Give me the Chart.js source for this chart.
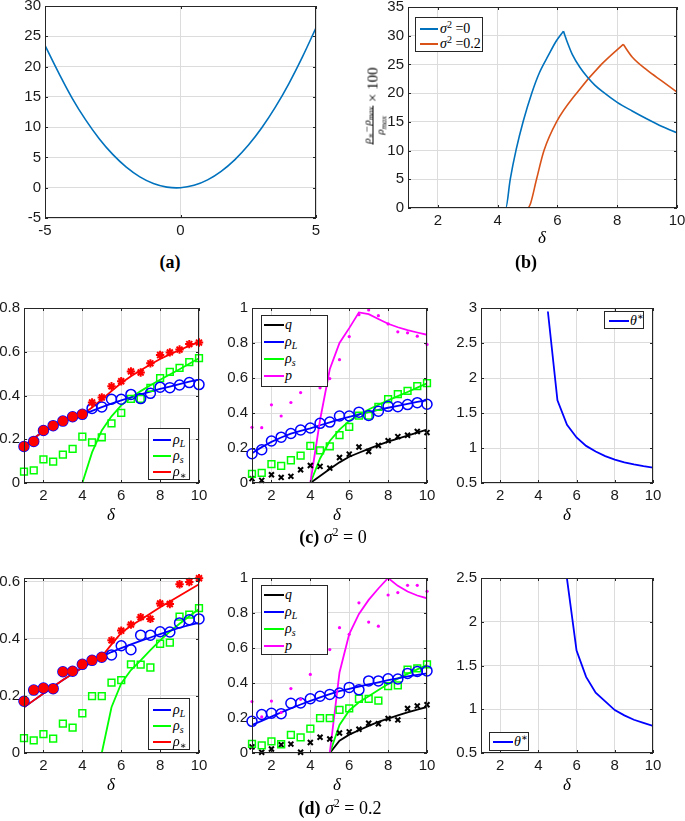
<!DOCTYPE html>
<html>
<head>
<meta charset="utf-8">
<script src="https://cdn.jsdelivr.net/npm/chart.js@4.4.1/dist/chart.umd.min.js"></script>
<style>
  body { margin: 0; width: 685px; height: 821px; position: relative; overflow: hidden; background: #fff; }
  canvas { position: absolute; }
  .t { position: absolute; transform: translate(-50%, -50%); white-space: nowrap;
       font-family: "Liberation Serif", "DejaVu Serif", serif; color: #000; }
  .cap { font-size: 18px; }
  .cap b { font-weight: bold; }
  .dl { font-size: 17px; font-style: italic; }
  .leg { position: absolute; border: 1px solid #262626; background: #fff; box-sizing: border-box; }
  .leg .ln { position: absolute; height: 2px; }
  .leg .tx { position: absolute; transform: translateY(-50%); white-space: nowrap;
             font-family: "Liberation Serif", "DejaVu Serif", serif; font-size: 14px; font-style: italic; }
  .leg sub, .leg sup { font-size: 10px; }
  .leg sub { vertical-align: -3px; }
  .leg sup { vertical-align: 5px; font-style: normal; }
  sub, sup { line-height: 0; }
</style>
</head>
<body>
<script>
// ---- data: panel (a)
const aX = [-5,-4.5,-4,-3.5,-3,-2.5,-2,-1.5,-1,-0.5,0,0.5,1,1.5,2,2.5,3,3.5,4,4.5,5];
const aY = [23.5,19.0,14.8,11.2,8.1,5.5,3.4,1.8,0.7,0.1,0,0.4,1.3,2.7,4.6,7.0,9.9,13.3,17.2,21.6,26.4];

// ---- data: panel (b), each curve split at its peak
const bBlueRiseX = [1,4.27,4.42,4.62,4.86,5.14,5.4,5.7,5.95,6.2];
const bBlueRiseY = [0,0,5,10.2,15.2,20.0,23.6,26.6,29.0,30.8];
const bBlueFallX = [6.2,6.35,6.5,6.75,7,7.25,7.5,8,8.5,9,9.5,10];
const bBlueFallY = [30.8,28.6,26.7,24.5,22.8,21.4,20.3,18.4,16.9,15.5,14.2,13.1];
const bOrangeRiseX = [1,5.0,5.1,5.3,5.55,5.97,6.64,7.47,8.2];
const bOrangeRiseY = [0,0,0.8,5.0,10.0,15.0,20.0,25.0,28.5];
const bOrangeFallX = [8.2,8.5,9,9.5,10];
const bOrangeFallY = [28.5,26.3,24.0,22.1,20.2];

// ---- shared delta grid for (c) and (d)
const deltaGrid = [1,1.5,2,2.5,3,3.5,4,4.5,5,5.5,6,6.5,7,7.5,8,8.5,9,9.5,10];

// (c) sigma^2 = 0 : simulated points
const cRhoLPts    = [0.167,0.19,0.24,0.262,0.283,0.303,0.314,0.341,0.348,0.383,0.383,0.405,0.386,0.41,0.438,0.436,0.448,0.459,0.45];
const cRhoStarPts = [0.167,0.19,0.24,0.262,0.283,0.303,0.314,0.368,0.391,0.442,0.465,0.51,0.505,0.547,0.585,0.597,0.61,0.635,0.642];
const cRhoSPts    = [0.052,0.058,0.108,0.098,0.13,0.156,0.212,0.186,0.209,0.273,0.321,0.385,0.385,0.435,0.479,0.508,0.526,0.553,0.571];
const cQPts       = [0.025,0.015,0.047,0.032,0.038,0.076,0.1,0.095,0.085,0.146,0.165,0.206,0.18,0.214,0.242,0.265,0.273,0.294,0.288];
const cPPts       = [0.318,0.316,0.447,0.383,0.46,0.517,0.682,0.544,0.597,0.705,0.837,0.962,0.989,0.956,0.909,0.864,0.858,0.839,0.792];
// (c) theory curves
const cRhoL    = [0.17,0.205,0.235,0.26,0.282,0.298,0.312,0.33,0.347,0.363,0.378,0.392,0.405,0.418,0.43,0.441,0.452,0.463,0.473];
const cRhoS    = [0,0,0,0,0,0,0,0.14,0.24,0.305,0.355,0.39,0.42,0.447,0.472,0.496,0.52,0.545,0.57];
const cRhoStar = [0.17,0.205,0.235,0.26,0.282,0.298,0.312,0.345,0.382,0.42,0.457,0.488,0.515,0.542,0.567,0.588,0.608,0.627,0.645];
const cQ       = [0,0,0,0,0,0,0,0.04,0.08,0.118,0.15,0.173,0.195,0.216,0.236,0.254,0.271,0.288,0.305];
const cP       = [0,0,0,0,0,0,0,0.36,0.65,0.8,0.885,0.975,0.965,0.937,0.91,0.89,0.874,0.86,0.847];
const cTheta   = [null,null,null,null,null,null,null,2.95,1.68,1.33,1.15,1.03,0.95,0.885,0.835,0.795,0.765,0.74,0.72];

// (d) sigma^2 = 0.2 : simulated points
const dRhoLPts    = [0.181,0.22,0.227,0.225,0.284,0.286,0.31,0.324,0.335,0.343,0.375,0.361,0.412,0.412,0.424,0.423,0.455,0.466,0.469];
const dRhoStarPts = [0.181,0.22,0.227,0.225,0.284,0.286,0.31,0.324,0.335,0.394,0.428,0.449,0.475,0.469,0.523,0.521,0.59,0.598,0.611];
const dRhoSPts    = [0.052,0.044,0.066,0.05,0.103,0.089,0.139,0.199,0.199,0.246,0.255,0.31,0.309,0.299,0.382,0.386,0.477,0.484,0.507];
const dQPts       = [0.035,0.004,0.023,0.047,0.051,0.004,0.06,0.09,0.08,0.114,0.121,0.136,0.17,0.167,0.197,0.189,0.254,0.269,0.276];
const dPPts       = [0.294,0.206,0.297,0.232,0.368,0.307,0.449,0.616,0.591,0.716,0.678,0.858,0.748,0.725,0.903,0.917,0.958,0.958,0.924];
// (d) theory curves
const dRhoL    = [0.16,0.184,0.208,0.232,0.255,0.277,0.298,0.318,0.337,0.353,0.367,0.38,0.392,0.404,0.416,0.427,0.438,0.447,0.455];
const dRhoS    = [0,0,0,0,0,0,0,0,0,0.16,0.243,0.29,0.324,0.36,0.394,0.425,0.452,0.478,0.504];
const dRhoStar = [0.16,0.184,0.208,0.232,0.255,0.277,0.298,0.318,0.337,0.38,0.42,0.445,0.466,0.488,0.51,0.53,0.55,0.57,0.59];
const dQ       = [0,0,0,0,0,0,0,0,0,0.07,0.105,0.13,0.155,0.178,0.197,0.215,0.232,0.248,0.263];
const dP       = [0,0,0,0,0,0,0,0,0,0.46,0.68,0.795,0.875,0.94,1.0,0.955,0.923,0.9,0.884];
const dTheta   = [null,null,null,null,null,null,null,null,null,2.49,1.67,1.37,1.19,1.09,0.99,0.93,0.88,0.845,0.81];

// tick labels
const aXTicks = [-5, 0, 5];
const aYTicks = [-5, 0, 5, 10, 15, 20, 25, 30];
const deltaTicks = [2, 4, 6, 8, 10];
const bYTicks = [0, 5, 10, 15, 20, 25, 30, 35];
const rhoTicks08 = [0, 0.2, 0.4, 0.6, 0.8];
const rhoTicks06 = [0, 0.2, 0.4, 0.6];
const unitTicks = [0, 0.2, 0.4, 0.6, 0.8, 1];
const thetaTicksC = [0.5, 1, 1.5, 2, 2.5, 3];
const thetaTicksD = [0.5, 1, 1.5, 2, 2.5];

// colours
const BLUE = '#0000ff', GREEN = '#00ff00', RED = '#ff0000', MAG = '#ff00ff', BLK = '#000000';

// ---- helpers
const PAD = {l: 50, t: 12, r: 14, b: 30};
const tickFont = {family: '"Liberation Sans", Arial, sans-serif', size: 15};

const pts = (xs, ys) => xs.map((x, i) => ({x: x, y: ys[i]}));

const frame = {
  id: 'frame',
  afterDraw(chart) {
    const {ctx, chartArea: a, scales} = chart;
    ctx.save();
    ctx.strokeStyle = '#262626';
    ctx.lineWidth = 1;
    ctx.strokeRect(a.left + 0.5, a.top + 0.5, a.right - a.left - 1, a.bottom - a.top - 1);
    ctx.beginPath();
    scales.x.ticks.forEach(t => {
      const p = Math.round(scales.x.getPixelForValue(t.value)) + 0.5;
      ctx.moveTo(p, a.bottom); ctx.lineTo(p, a.bottom - 3);
      ctx.moveTo(p, a.top); ctx.lineTo(p, a.top + 3);
    });
    scales.y.ticks.forEach(t => {
      const p = Math.round(scales.y.getPixelForValue(t.value)) + 0.5;
      ctx.moveTo(a.left, p); ctx.lineTo(a.left + 3, p);
      ctx.moveTo(a.right, p); ctx.lineTo(a.right - 3, p);
    });
    ctx.stroke();
    ctx.restore();
  }
};

function axis(range, ticks, isX) {
  return {
    type: 'linear', min: range[0], max: range[1],
    afterFit: s => { if (isX) s.height = PAD.b; else s.width = PAD.l; },
    afterBuildTicks: s => { s.ticks = ticks.map(v => ({value: v})); },
    grid: {color: '#dcdcdc', drawTicks: false},
    border: {display: false},
    ticks: {padding: 4, font: tickFont, color: '#1a1a1a', autoSkip: false, maxRotation: 0,
            callback: v => String(Math.round(v * 1000) / 1000)}
  };
}

function panel(box, xr, yr, xTicks, yTicks, datasets) {
  const c = document.createElement('canvas');
  const w = box.R - box.L + PAD.l + PAD.r, h = box.B - box.T + PAD.t + PAD.b;
  c.width = w; c.height = h;
  c.style.width = w + 'px'; c.style.height = h + 'px';
  c.style.left = (box.L - PAD.l) + 'px'; c.style.top = (box.T - PAD.t) + 'px';
  document.body.appendChild(c);
  return new Chart(c, {
    type: 'line',
    data: {datasets: datasets},
    options: {
      responsive: false, animation: false,
      layout: {padding: {top: PAD.t, right: PAD.r, left: 0, bottom: 0}},
      plugins: {legend: {display: false}, tooltip: {enabled: false}},
      scales: {x: axis(xr, xTicks, true), y: axis(yr, yTicks, false)}
    },
    plugins: [frame]
  });
}

const line = (xs, ys, color, width) => ({
  data: pts(xs, ys), borderColor: color, borderWidth: width || 1.8,
  pointRadius: 0, fill: false, tension: 0, spanGaps: false
});
const smooth = (xs, ys, color) => ({
  data: pts(xs, ys), borderColor: color, borderWidth: 1.6,
  pointRadius: 0, fill: false, cubicInterpolationMode: 'monotone'
});
const circles = (ys, color) => ({
  data: pts(deltaGrid, ys), showLine: false, clip: false,
  pointStyle: 'circle', pointRadius: 5, pointBorderWidth: 1.5,
  pointBorderColor: color, pointBackgroundColor: 'rgba(0,0,0,0)'
});
const squares = (ys, color) => ({
  data: pts(deltaGrid, ys), showLine: false, clip: false,
  pointStyle: 'rect', pointRadius: 4.8, pointBorderWidth: 1.5,
  pointBorderColor: color, pointBackgroundColor: 'rgba(0,0,0,0)'
});
const crosses = (ys, color) => ({
  data: pts(deltaGrid, ys), showLine: false, clip: false,
  pointStyle: 'crossRot', pointRadius: 3.5, pointBorderWidth: 2,
  pointBorderColor: color
});
const dots = (ys, color) => ({
  data: pts(deltaGrid, ys), showLine: false, clip: false,
  pointStyle: 'circle', pointRadius: 1.6, pointBorderWidth: 0,
  pointBackgroundColor: color, pointBorderColor: color
});
// rho* markers: a filled dot where they sit on rho_L, an asterisk otherwise
const stars = (ys, onL, color) => ({
  data: pts(deltaGrid, ys), showLine: false, clip: false,
  pointStyle: ctx => (Math.abs(ys[ctx.dataIndex] - onL[ctx.dataIndex]) < 1e-9 ? 'circle' : 'star'),
  pointRadius: ctx => (Math.abs(ys[ctx.dataIndex] - onL[ctx.dataIndex]) < 1e-9 ? 4 : 4.2),
  pointBorderWidth: 2, pointBorderColor: color, pointBackgroundColor: color
});

function text(html, x, y, cls) {
  const d = document.createElement('div');
  d.className = 't ' + cls;
  d.innerHTML = html;
  d.style.left = x + 'px'; d.style.top = y + 'px';
  document.body.appendChild(d);
}

function legend(b, items) {
  const d = document.createElement('div');
  d.className = 'leg';
  d.style.left = b.x + 'px'; d.style.top = b.y + 'px';
  d.style.width = b.w + 'px'; d.style.height = b.h + 'px';
  items.forEach((it, i) => {
    const cy = b.y0 + i * b.dy - 1;
    const l = document.createElement('div');
    l.className = 'ln';
    l.style.left = b.lx0 + 'px'; l.style.width = (b.lx1 - b.lx0) + 'px';
    l.style.top = (cy - 1) + 'px'; l.style.background = it.c;
    d.appendChild(l);
    const t = document.createElement('div');
    t.className = 'tx';
    t.style.left = b.tx + 'px'; t.style.top = cy + 'px';
    t.innerHTML = it.t;
    d.appendChild(t);
  });
  document.body.appendChild(d);
}

const RHO_L = 'ρ<sub>L</sub>', RHO_S = 'ρ<sub>s</sub>', RHO_STAR = 'ρ<sub>∗</sub>';

// ---- (a)
panel({L: 45, T: 5, R: 316, B: 218}, [-5, 5], [-5, 30], aXTicks, aYTicks, [
  {data: pts(aX, aY), borderColor: '#0072BD', borderWidth: 1.6, pointRadius: 0, tension: 0.4}
]);
text('<b>(a)</b>', 170, 262, 'cap');

// ---- (b)
panel({L: 408, T: 6, R: 677, B: 208}, [1, 10], [0, 35], deltaTicks, bYTicks, [
  smooth(bBlueRiseX, bBlueRiseY, '#0072BD'),
  smooth(bBlueFallX, bBlueFallY, '#0072BD'),
  smooth(bOrangeRiseX, bOrangeRiseY, '#D95319'),
  smooth(bOrangeFallX, bOrangeFallY, '#D95319')
]);
legend({x: 415, y: 17, w: 68, h: 35, y0: 12, dy: 15, lx0: 4, lx1: 22, tx: 24}, [
  {c: '#0072BD', t: 'σ<sup>2</sup> <span style="font-style:normal">=0</span>'},
  {c: '#D95319', t: 'σ<sup>2</sup> <span style="font-style:normal">=0.2</span>'}
]);
text('δ', 542, 238, 'dl');
text('<b>(b)</b>', 526, 262, 'cap');
{
  const y = document.createElement('div');
  y.className = 't';
  y.style.left = '373px'; y.style.top = '106px';
  y.style.transform = 'translate(-50%,-50%) rotate(-90deg)';
  y.innerHTML =
    '<span style="display:inline-flex;flex-direction:column;align-items:center;vertical-align:middle;font-size:11px;font-style:italic">' +
      '<span style="border-bottom:1px solid #000;padding:0 1px">ρ<sub style="font-size:8px">∗</sub>−ρ<sub style="font-size:8px">max</sub></span>' +
      '<span>ρ<sub style="font-size:8px">max</sub></span>' +
    '</span><span style="font-size:15px;vertical-align:middle"> × 100</span>';
  document.body.appendChild(y);
}

// ---- (c) sigma^2 = 0
panel({L: 24, T: 307, R: 199, B: 483}, [1, 10], [0, 0.8], deltaTicks, rhoTicks08, [
  stars(cRhoStarPts, cRhoLPts, RED),
  circles(cRhoLPts, BLUE),
  squares(cRhoSPts, GREEN),
  line(deltaGrid, cRhoStar, RED),
  line(deltaGrid, cRhoL, BLUE),
  line(deltaGrid, cRhoS, GREEN)
]);
legend({x: 148, y: 428, w: 42, h: 52, y0: 12, dy: 16, lx0: 4, lx1: 22, tx: 24}, [
  {c: BLUE, t: RHO_L}, {c: GREEN, t: RHO_S}, {c: RED, t: RHO_STAR}
]);
text('δ', 111, 515, 'dl');

panel({L: 252, T: 307, R: 427, B: 483}, [1, 10], [0, 1], deltaTicks, unitTicks, [
  dots(cPPts, MAG),
  circles(cRhoLPts, BLUE),
  squares(cRhoSPts, GREEN),
  crosses(cQPts, BLK),
  line(deltaGrid, cP, MAG),
  line(deltaGrid, cRhoL, BLUE),
  line(deltaGrid, cRhoS, GREEN),
  line(deltaGrid, cQ, BLK)
]);
legend({x: 261, y: 315, w: 67, h: 72, y0: 10, dy: 17, lx0: 2, lx1: 22, tx: 23}, [
  {c: BLK, t: 'q'}, {c: BLUE, t: RHO_L}, {c: GREEN, t: RHO_S}, {c: MAG, t: 'p'}
]);
text('δ', 337, 515, 'dl');

panel({L: 481, T: 307, R: 653, B: 483}, [1, 10], [0.5, 3], deltaTicks, thetaTicksC, [
  line(deltaGrid, cTheta, BLUE)
]);
legend({x: 604, y: 311, w: 40, h: 18, y0: 10, dy: 0, lx0: 4, lx1: 24, tx: 25}, [
  {c: BLUE, t: 'θ<sup>∗</sup>'}
]);
text('δ', 567, 515, 'dl');
text('<b>(c)</b> <i>σ</i><sup style="font-size:12px">2</sup> = 0', 333, 537, 'cap');

// ---- (d) sigma^2 = 0.2
panel({L: 24, T: 577, R: 199, B: 753}, [1, 10], [0, 0.612], deltaTicks, rhoTicks06, [
  stars(dRhoStarPts, dRhoLPts, RED),
  circles(dRhoLPts, BLUE),
  squares(dRhoSPts, GREEN),
  line(deltaGrid, dRhoStar, RED),
  line(deltaGrid, dRhoL, BLUE),
  line(deltaGrid, dRhoS, GREEN)
]);
legend({x: 148, y: 698, w: 42, h: 52, y0: 12, dy: 16, lx0: 4, lx1: 22, tx: 24}, [
  {c: BLUE, t: RHO_L}, {c: GREEN, t: RHO_S}, {c: RED, t: RHO_STAR}
]);
text('δ', 111, 785, 'dl');

panel({L: 252, T: 577, R: 427, B: 753}, [1, 10], [0, 1], deltaTicks, unitTicks, [
  dots(dPPts, MAG),
  circles(dRhoLPts, BLUE),
  squares(dRhoSPts, GREEN),
  crosses(dQPts, BLK),
  line(deltaGrid, dP, MAG),
  line(deltaGrid, dRhoL, BLUE),
  line(deltaGrid, dRhoS, GREEN),
  line(deltaGrid, dQ, BLK)
]);
legend({x: 261, y: 585, w: 67, h: 70, y0: 10, dy: 17, lx0: 2, lx1: 22, tx: 23}, [
  {c: BLK, t: 'q'}, {c: BLUE, t: RHO_L}, {c: GREEN, t: RHO_S}, {c: MAG, t: 'p'}
]);
text('δ', 337, 785, 'dl');

panel({L: 481, T: 577, R: 653, B: 753}, [1, 10], [0.5, 2.5], deltaTicks, thetaTicksD, [
  line(deltaGrid, dTheta, BLUE)
]);
legend({x: 489, y: 732, w: 40, h: 19, y0: 10, dy: 0, lx0: 3, lx1: 23, tx: 24}, [
  {c: BLUE, t: 'θ<sup>∗</sup>'}
]);
text('δ', 567, 785, 'dl');
text('<b>(d)</b> <i>σ</i><sup style="font-size:12px">2</sup> = 0.2', 340, 808, 'cap');
</script>
</body>
</html>
